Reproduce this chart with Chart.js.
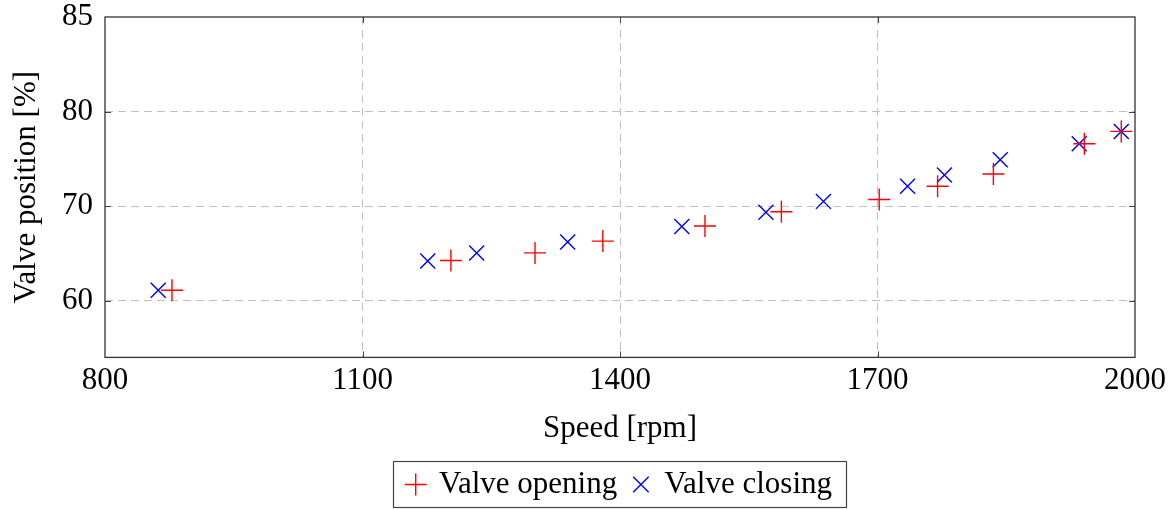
<!DOCTYPE html>
<html><head><meta charset="utf-8">
<script src="https://cdn.jsdelivr.net/npm/chart.js@4/dist/chart.umd.min.js"></script>
<style>html,body{margin:0;padding:0;background:#fff;} #wrap{width:1173px;height:509px;}</style>
</head><body><div id="wrap"><canvas id="c" width="1173" height="509"></canvas></div>
<script>
const openingSpeed = [878, 1203, 1301, 1380, 1499, 1588, 1702, 1770, 1835, 1941, 1984];
const openingPos   = [61.1, 64.25, 65.05, 66.3, 67.9, 69.4, 70.7, 72.1, 73.4, 76.6, 77.9];
const closingSpeed = [862, 1176, 1233, 1339, 1472, 1570, 1637, 1735, 1778, 1843, 1935, 1984];
const closingPos   = [61.1, 64.2, 65.05, 66.2, 67.85, 69.35, 70.5, 72.1, 73.3, 74.9, 76.6, 77.9];
const xTickValues = [800, 1100, 1400, 1700, 2000];
const yTickValues = [60, 70, 80, 90];
const yTickLabels = ["60", "70", "80", "85"];
const seriesNames = ["Valve opening", "Valve closing"];
const xTitle = "Speed [rpm]";
const yTitle = "Valve position [%]";

const FONT = "'Liberation Serif', 'Times New Roman', serif";
const FS = 31;
const GRID = '#c0c0c0';
const FRAME = '#333333';
const DASH = [8, 5];

function toPoints(xs, ys) { return xs.map((x, i) => ({x: x, y: ys[i]})); }

const framePlugin = {
  id: 'frame',
  afterLayout(chart) {
    const lg = chart.legend;
    if (!lg) return;
    const ca = chart.chartArea;
    const dx = (ca.left + ca.right) / 2 - (lg.left + lg.right) / 2;
    lg.left += dx; lg.right += dx;
    const dy = 484.5 - (lg.top + lg.options.labels.padding + FS / 2);
    lg.top += dy; lg.bottom += dy;
  },
  afterDraw(chart) {
    const ctx = chart.ctx, ca = chart.chartArea;
    const xs = chart.scales.x, ys = chart.scales.y;
    ctx.save();
    ctx.strokeStyle = '#444';
    ctx.lineWidth = 1;
    ctx.beginPath();
    yTickValues.forEach(v => {
      if (v >= ys.max || v <= ys.min) return;
      const py = Math.round(ys.getPixelForValue(v)) + 0.5;
      ctx.moveTo(ca.left, py); ctx.lineTo(ca.left + 6, py);
      ctx.moveTo(ca.right, py); ctx.lineTo(ca.right - 6, py);
    });
    xTickValues.forEach(v => {
      if (v >= xs.max || v <= xs.min) return;
      const px = Math.round(xs.getPixelForValue(v)) + 0.5;
      ctx.moveTo(px, ca.bottom); ctx.lineTo(px, ca.bottom - 6);
      ctx.moveTo(px, ca.top); ctx.lineTo(px, ca.top + 6);
    });
    ctx.stroke();
    ctx.strokeStyle = FRAME;
    ctx.lineWidth = 1.3;
    ctx.strokeRect(ca.left, ca.top, ca.right - ca.left, ca.bottom - ca.top);
    const lg = chart.legend;
    if (lg && lg.lineWidths) {
      const pad = lg.options.labels.padding;
      const start = (lg.left + pad + lg.right - lg.lineWidths[0]) / 2;
      const end = start + lg.lineWidths[0] - pad;
      const cy = lg.top + pad + FS / 2;
      ctx.lineWidth = 1.2;
      ctx.strokeStyle = '#444';
      ctx.strokeRect(Math.round(start - 15) + 0.5, Math.round(cy - 23.5) + 0.5, Math.round(end - start + 29), 46);
    }
    ctx.restore();
  }
};

new Chart(document.getElementById('c'), {
  type: 'scatter',
  data: {
    datasets: [
      {
        label: seriesNames[0],
        data: toPoints(openingSpeed, openingPos),
        pointStyle: 'cross',
        pointRadius: 11,
        pointHoverRadius: 11,
        borderColor: '#ff0000',
        backgroundColor: '#ff0000',
        pointBorderWidth: 1.4,
        borderWidth: 1.4
      },
      {
        label: seriesNames[1],
        data: toPoints(closingSpeed, closingPos),
        pointStyle: 'crossRot',
        pointRadius: 10.6,
        pointHoverRadius: 10.6,
        borderColor: '#0000ff',
        backgroundColor: '#0000ff',
        pointBorderWidth: 1.4,
        borderWidth: 1.4
      }
    ]
  },
  options: {
    responsive: false,
    devicePixelRatio: 1,
    animation: false,
    events: [],
    layout: { padding: { left: 0, right: 38, top: 17, bottom: 0 } },
    plugins: {
      tooltip: { enabled: false },
      legend: {
        display: true,
        position: 'bottom',
        labels: {
          usePointStyle: true,
          boxWidth: 15.5,
          boxHeight: 15.5,
          padding: 16,
          color: '#000',
          font: { family: FONT, size: FS }
        }
      }
    },
    scales: {
      x: {
        type: 'linear',
        min: 800,
        max: 2000,
        afterBuildTicks: s => { s.ticks = xTickValues.map(v => ({value: v})); },
        afterFit: s => { s.height = 94.6; },
        grid: {
          drawTicks: false,
          color: c => (c.tick && (c.tick.value === 800 || c.tick.value === 2000)) ? 'rgba(0,0,0,0)' : GRID,
          lineWidth: 1,
          borderDash: DASH
        },
        border: { display: false, dash: DASH },
        ticks: {
          color: '#000',
          padding: 5,
          maxRotation: 0,
          autoSkip: false,
          font: { family: FONT, size: FS },
          callback: v => String(v)
        },
        title: {
          display: true,
          text: xTitle,
          color: '#000',
          font: { family: FONT, size: FS },
          padding: { top: 0, bottom: 5 }
        }
      },
      y: {
        type: 'linear',
        min: 54,
        max: 90,
        afterBuildTicks: s => { s.ticks = yTickValues.map(v => ({value: v})); },
        afterFit: s => { s.width = 105; s.paddingTop = 0; s.paddingBottom = 0; },
        grid: {
          drawTicks: false,
          color: c => (c.tick && (c.tick.value === 90)) ? 'rgba(0,0,0,0)' : GRID,
          lineWidth: 1,
          borderDash: DASH
        },
        border: { display: false, dash: DASH },
        ticks: {
          color: '#000',
          padding: 12,
          autoSkip: false,
          font: { family: FONT, size: FS },
          callback: v => { const i = yTickValues.indexOf(v); return i >= 0 ? yTickLabels[i] : ''; }
        },
        title: {
          display: true,
          text: yTitle,
          color: '#000',
          font: { family: FONT, size: FS },
          padding: { top: 8, bottom: 0 }
        }
      }
    }
  },
  plugins: [framePlugin]
});
</script>
</body></html>
